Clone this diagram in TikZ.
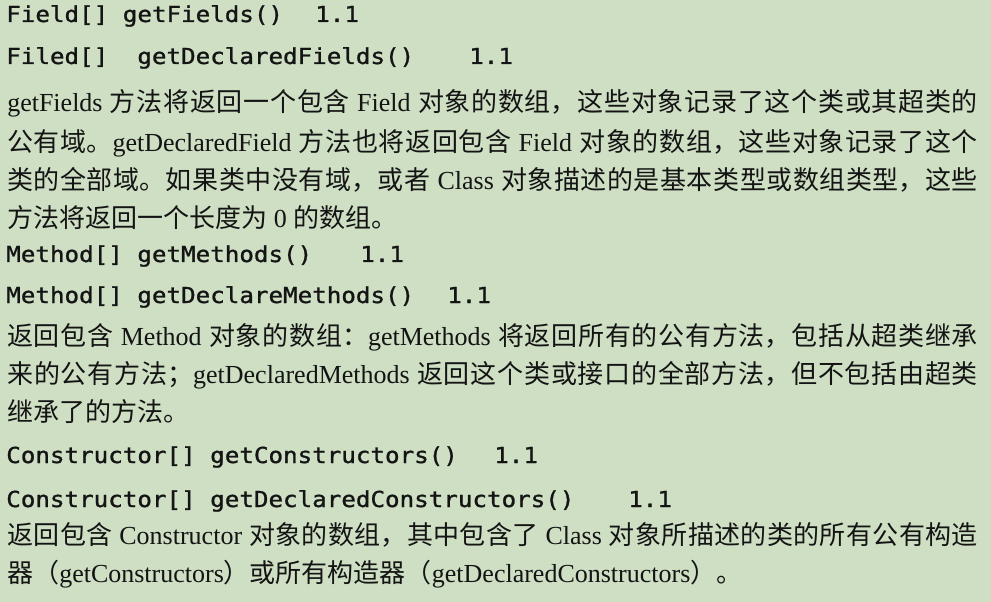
\documentclass[tikz,border=0pt]{standalone}
\usepackage{fontspec}
\setmainfont{Liberation Serif}
\newfontfamily\cjk{Noto Sans CJK SC}
\newfontfamily\apifont[FakeStretch=1.1,FakeBold=1.2]{DejaVu Sans Mono}
\XeTeXlinebreaklocale "zh"
\XeTeXlinebreakskip=0pt plus 2pt
\definecolor{bggreen}{RGB}{206,223,196}
\definecolor{ink}{RGB}{20,20,20}
\tikzset{
	code/.style={anchor=base west, inner sep=0pt, text=ink, font=\apifont\fontsize{16.5pt}{20pt}\selectfont},
	body/.style={anchor=base west, inner sep=0pt, text=ink, font=\fontsize{19.5pt}{23pt}\selectfont},
	fullline/.style={body, text width=728pt, align=justify, execute at begin node={\parfillskip=0pt\tolerance=10000\relax}}
}
\newcommand\apiline[4]{\node[code] (#1) at (6,#2) {#3};\node[code] (#1v) at (#4,#2) {1.1};}
\newcommand\fullline[3]{\node[fullline] (#1) at (7,#2) {#3};}
\newcommand\lastline[3]{\node[body] (#1) at (7,#2) {#3};}

\begin{document}
\begin{tikzpicture}[x=0.75pt, y=-0.75pt]
	\fill[bggreen] (0,0) rectangle (991,602);
	\useasboundingbox (0,0) rectangle (991,602);
	\apiline{fields}{22}{Field[] getFields()}{315}
	\apiline{declfields}{64}{Filed[]\ \ getDeclaredFields()}{469}
	\fullline{fa}{112}{getFields {\cjk 方法将返回一个包含} Field {\cjk 对象的数组，这些对象记录了这个类或其超类的}}
	\fullline{fb}{152}{{\cjk 公有域。}getDeclaredField {\cjk 方法也将返回包含} Field {\cjk 对象的数组，这些对象记录了这个}}
	\fullline{fc}{190}{{\cjk 类的全部域。如果类中没有域，或者} Class {\cjk 对象描述的是基本类型或数组类型，这些}}
	\lastline{fd}{228}{{\cjk 方法将返回一个长度为} 0 {\cjk 的数组。}}
	\apiline{methods}{262}{Method[] getMethods()}{360}
	\apiline{declmethods}{303}{Method[] getDeclareMethods()}{447}
	\fullline{ma}{345}{{\cjk 返回包含} Method {\cjk 对象的数组：}getMethods {\cjk 将返回所有的公有方法，包括从超类继承}}
	\fullline{mb}{383}{{\cjk 来的公有方法；}getDeclaredMethods {\cjk 返回这个类或接口的全部方法，但不包括由超类}}
	\lastline{mc}{421}{{\cjk 继承了的方法。}}
	\apiline{ctors}{463}{Constructor[] getConstructors()}{494}
	\apiline{declctors}{507}{Constructor[] getDeclaredConstructors()}{628}
	\fullline{ca}{544}{{\cjk 返回包含} Constructor {\cjk 对象的数组，其中包含了} Class {\cjk 对象所描述的类的所有公有构造}}
	\lastline{cb}{582}{{\cjk 器（}getConstructors{\cjk ）或所有构造器（}getDeclaredConstructors{\cjk ）。}}
\end{tikzpicture}
\end{document}
